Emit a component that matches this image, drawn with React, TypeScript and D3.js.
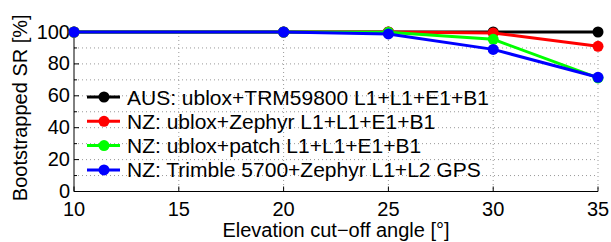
import React from "react";
import * as d3 from "d3";

const angles = [10, 20, 25, 30, 35];
const seriesNames = [
  "AUS: ublox+TRM59800 L1+L1+E1+B1",
  "NZ: ublox+Zephyr L1+L1+E1+B1",
  "NZ: ublox+patch L1+L1+E1+B1",
  "NZ: Trimble 5700+Zephyr L1+L2 GPS",
];
const ausValues = [100, 100, 100, 100, 100];
const nzZephyrValues = [100, 100, 100, 99.4, 91.0];
const nzPatchValues = [100, 100, 99.8, 95.4, 71.2];
const nzTrimbleValues = [100, 100, 98.8, 89.1, 71.6];
const seriesColors = ["#000000", "#ff0000", "#00ff00", "#0000ff"];
const xTicks = [10, 15, 20, 25, 30, 35];
const yTicks = [0, 20, 40, 60, 80, 100];
const yMinorTicks = [10, 30, 50, 70, 90];

const W = 611;
const H = 242;
const left = 74;
const right = 598;
const top = 32;
const bottom = 191.5;
const FONT = "'Liberation Sans', Arial, Helvetica, sans-serif";

export default function App() {
  const x = d3.scaleLinear().domain([10, 35]).range([left, right]);
  const y = d3.scaleLinear().domain([0, 100]).range([bottom, top]);
  const series = [ausValues, nzZephyrValues, nzPatchValues, nzTrimbleValues];
  const line = d3
    .line<[number, number]>()
    .x((d) => x(d[0]))
    .y((d) => y(d[1]));

  const gridY = [...yTicks, ...yMinorTicks].filter((v) => v !== 0);
  const gridX = xTicks.filter((v) => v !== 10);

  return (
    <svg
      width={W}
      height={H}
      style={{ position: "absolute", left: 0, top: 0, background: "#fff" }}
      fontFamily={FONT}
    >
      <rect x={0} y={0} width={W} height={H} fill="#fff" />
      {gridY.map((v) => (
        <line
          key={"gy" + v}
          x1={left}
          x2={right}
          y1={y(v)}
          y2={y(v)}
          stroke="#999"
          strokeWidth={1}
          strokeDasharray="1,3"
        />
      ))}
      {gridX.map((v) => (
        <line
          key={"gx" + v}
          x1={x(v)}
          x2={x(v)}
          y1={top}
          y2={bottom}
          stroke="#999"
          strokeWidth={1}
          strokeDasharray="1,3"
        />
      ))}
      <line x1={left} x2={left} y1={top} y2={bottom} stroke="#000" strokeWidth={1} />
      <line x1={left} x2={right} y1={bottom} y2={bottom} stroke="#000" strokeWidth={1} />
      {yTicks.map((v) => (
        <g key={"yt" + v}>
          <line x1={left} x2={left + 5} y1={y(v)} y2={y(v)} stroke="#000" />
          <text x={left - 4} y={y(v) + 6.5} textAnchor="end" fontSize={20} fill="#000">
            {v}
          </text>
        </g>
      ))}
      {yMinorTicks.map((v) => (
        <line key={"ym" + v} x1={left} x2={left + 3} y1={y(v)} y2={y(v)} stroke="#000" />
      ))}
      {xTicks.map((v) => (
        <g key={"xt" + v}>
          <line x1={x(v)} x2={x(v)} y1={bottom} y2={bottom - 5} stroke="#000" />
          <text x={x(v)} y={216} textAnchor="middle" fontSize={20} fill="#000">
            {v}
          </text>
        </g>
      ))}
      <text x={(left + right) / 2} y={237} textAnchor="middle" fontSize={20} fill="#000">
        Elevation cut−off angle [°]
      </text>
      <text
        transform={`translate(27,${(top + bottom) / 2 - 4}) rotate(-90)`}
        textAnchor="middle"
        fontSize={20}
        fill="#000"
      >
        Bootstrapped SR [%]
      </text>
      {series.map((vals, i) => {
        const pts = angles.map((a, j) => [a, vals[j]] as [number, number]);
        return (
          <g key={"s" + i}>
            <path d={line(pts) || ""} fill="none" stroke={seriesColors[i]} strokeWidth={3} />
            {pts.map((p, j) => (
              <circle key={j} cx={x(p[0])} cy={y(p[1])} r={5.5} fill={seriesColors[i]} />
            ))}
          </g>
        );
      })}
      {seriesNames.map((name, i) => {
        const ly = 97 + i * 24.3;
        return (
          <g key={"l" + i}>
            <line x1={87} x2={120} y1={ly} y2={ly} stroke={seriesColors[i]} strokeWidth={3} />
            <circle cx={104} cy={ly} r={5.5} fill={seriesColors[i]} />
            <text x={127} y={ly + 7.5} fontSize={21} fill="#000">
              {name}
            </text>
          </g>
        );
      })}
    </svg>
  );
}
